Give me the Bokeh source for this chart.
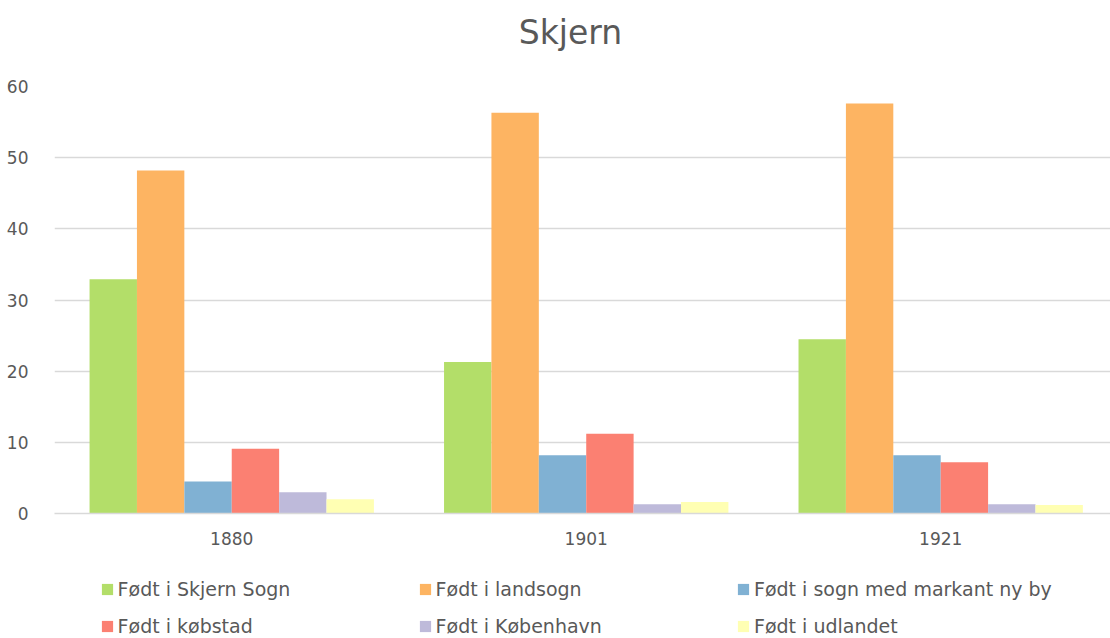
from bokeh.plotting import figure
from bokeh.layouts import column
from bokeh.models import Range1d, Legend, LegendItem, ColumnDataSource, FixedTicker, Label
from bokeh.transform import dodge
from bokeh.embed import file_html
from bokeh.resources import INLINE

years = ["1880", "1901", "1921"]
series_names = [
    "Født i Skjern Sogn",
    "Født i landsogn",
    "Født i sogn med markant ny by",
    "Født i købstad",
    "Født i København",
    "Født i udlandet",
]
skjern_sogn = [32.9, 21.3, 24.5]
landsogn = [48.2, 56.3, 57.6]
sogn_ny_by = [4.5, 8.2, 8.2]
kobstad = [9.1, 11.2, 7.2]
kobenhavn = [3.0, 1.3, 1.3]
udlandet = [2.0, 1.6, 1.2]
y_ticks = [0, 10, 20, 30, 40, 50, 60]

colors = ["#b3de69", "#fdb462", "#80b1d3", "#fb8072", "#bebada", "#ffffb3"]
keys = ["skjern_sogn", "landsogn", "sogn_ny_by", "kobstad", "kobenhavn", "udlandet"]

# category centres on a numeric axis (one unit per year)
xc = [i + 0.5 for i in range(len(years))]

source = ColumnDataSource(data=dict(
    xc=xc,
    years=years,
    skjern_sogn=skjern_sogn,
    landsogn=landsogn,
    sogn_ny_by=sogn_ny_by,
    kobstad=kobstad,
    kobenhavn=kobenhavn,
    udlandet=udlandet,
))

TEXT = "#595959"
FONT = "DejaVu Sans"
W = 1110

# ---- title strip ----
tf = figure(width=W, height=60, x_range=Range1d(0, 1), y_range=Range1d(0, 1),
            output_backend="svg", toolbar_location=None,
            x_axis_type=None, y_axis_type=None, min_border=0)
tf.outline_line_color = None
tf.xgrid.visible = False
tf.ygrid.visible = False
tf.add_layout(Label(x=516, y=28.5, x_units="screen", y_units="screen", text="Skjern",
                    text_align="center", text_baseline="middle",
                    text_font=FONT, text_font_size="33px", text_color=TEXT))

# ---- main chart ----
p = figure(
    width=W, height=500,
    x_range=Range1d(0, 2.979),
    y_range=Range1d(0, 60),
    output_backend="svg", toolbar_location=None,
    min_border_left=54, min_border_right=0, min_border_top=26, min_border_bottom=47,
)
p.outline_line_color = None

bw = 0.1337
renderers = []
n = len(keys)
for i, (k, c) in enumerate(zip(keys, colors)):
    off = (i - (n - 1) / 2) * bw
    r = p.vbar(x=dodge("xc", off), top=k, width=bw, source=source,
               fill_color=c, line_color=None)
    renderers.append(r)

p.xgrid.grid_line_color = None
p.ygrid.grid_line_color = "#d9d9d9"
p.ygrid.grid_line_width = 1.3

p.yaxis.ticker = FixedTicker(ticks=y_ticks)
p.yaxis.axis_line_color = None
p.yaxis.major_tick_line_color = None
p.yaxis.minor_tick_line_color = None
p.yaxis.major_label_standoff = 20
p.yaxis.major_label_text_font = FONT
p.yaxis.major_label_text_font_size = "17px"
p.yaxis.major_label_text_color = TEXT

p.xaxis.ticker = FixedTicker(ticks=xc)
p.xaxis.major_label_overrides = {x: y for x, y in zip(xc, years)}
p.xaxis.axis_line_color = "#d9d9d9"
p.xaxis.axis_line_width = 1.5
p.xaxis.major_tick_line_color = None
p.xaxis.minor_tick_line_color = None
p.xaxis.major_label_standoff = 12
p.xaxis.major_label_text_font = FONT
p.xaxis.major_label_text_font_size = "17px"
p.xaxis.major_label_text_color = TEXT

# ---- legend strip ----
lf = figure(width=W, height=78, x_range=Range1d(0, 1), y_range=Range1d(0, 1),
            output_backend="svg", toolbar_location=None,
            x_axis_type=None, y_axis_type=None, min_border=0)
lf.outline_line_color = None
lf.xgrid.visible = False
lf.ygrid.visible = False
# legend swatches (zero-height bars, only used for the legend keys)
proxies = [lf.vbar(x="xc", top=0, width=0.01, source=source, fill_color=c, line_color=None)
           for c in colors]

col_x = [45.6, 363.6, 682]
for ci in range(3):
    items = [
        LegendItem(label=series_names[ci], renderers=[proxies[ci]]),
        LegendItem(label=series_names[ci + 3], renderers=[proxies[ci + 3]]),
    ]
    lg = Legend(items=items, location=(col_x[ci], 1.5), orientation="vertical")
    lg.border_line_color = None
    lg.background_fill_alpha = 0
    lg.padding = 0
    lg.margin = 0
    lg.spacing = 15
    lg.glyph_width = 14
    lg.glyph_height = 14
    lg.label_standoff = 4
    lg.label_height = 22
    lg.label_text_font = FONT
    lg.label_text_font_size = "19px"
    lg.label_text_color = TEXT
    lf.add_layout(lg)

layout = column(tf, p, lf, spacing=0)
open("out.html", "w").write(file_html(layout, INLINE))
